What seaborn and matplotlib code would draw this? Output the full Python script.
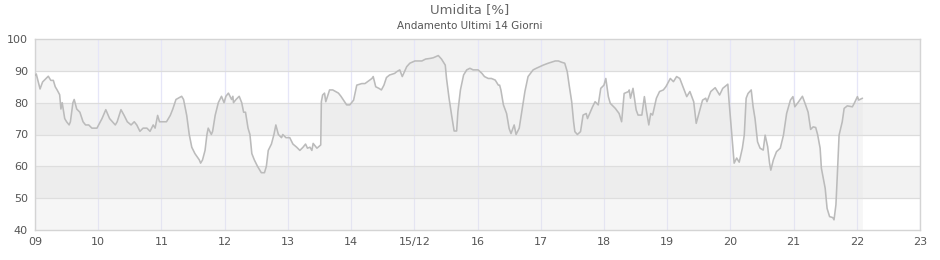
import matplotlib
matplotlib.use("Agg")
import matplotlib.pyplot as plt
import seaborn as sns
import pandas as pd

# time in fractional days (day of month), humidity in %
days = [9.00, 9.02, 9.08, 9.12, 9.17, 9.21, 9.25, 9.29, 9.32, 9.35, 9.39, 9.41, 9.43, 9.47, 9.50, 9.54,
        9.56, 9.60, 9.62, 9.66, 9.71, 9.76, 9.80, 9.85, 9.90, 9.98,
        10.06, 10.12, 10.18, 10.27, 10.30, 10.36, 10.41, 10.46, 10.52, 10.57, 10.61, 10.66, 10.71,
        10.77, 10.82, 10.87, 10.90, 10.94, 10.97,
        11.08, 11.14, 11.18, 11.23, 11.32, 11.35, 11.40, 11.44, 11.48, 11.53, 11.60, 11.62, 11.65,
        11.69, 11.72, 11.74, 11.79, 11.81, 11.85, 11.90, 11.95, 11.99,
        12.02, 12.06, 12.11, 12.13, 12.14, 12.18, 12.23, 12.27, 12.30, 12.33, 12.37, 12.40, 12.43,
        12.47, 12.52, 12.58, 12.63, 12.66, 12.69, 12.74, 12.78, 12.81, 12.85, 12.90, 12.92, 12.97,
        13.03, 13.08, 13.14, 13.19, 13.24, 13.28, 13.31, 13.35, 13.38, 13.40, 13.46, 13.52, 13.53,
        13.55, 13.58, 13.60, 13.66, 13.71, 13.80, 13.84, 13.93, 13.98,
        14.04, 14.09, 14.17, 14.22, 14.33, 14.35, 14.39, 14.44, 14.48, 14.52, 14.56, 14.61, 14.69,
        14.72, 14.77, 14.81, 14.88, 14.93,
        15.01, 15.12, 15.18, 15.25, 15.30, 15.38, 15.43, 15.49, 15.51, 15.55, 15.59, 15.63, 15.67,
        15.69, 15.73, 15.78, 15.83, 15.88, 15.93,
        16.01, 16.07, 16.11, 16.17, 16.22, 16.28, 16.33, 16.35, 16.37, 16.41, 16.46, 16.50, 16.53,
        16.58, 16.61, 16.66, 16.70, 16.75, 16.80, 16.88, 16.93,
        17.04, 17.12, 17.23, 17.28, 17.33, 17.38, 17.42, 17.45, 17.49, 17.52, 17.54, 17.58, 17.63,
        17.67, 17.72, 17.74, 17.82, 17.86, 17.91, 17.95,
        18.00, 18.03, 18.07, 18.10, 18.18, 18.24, 18.28, 18.32, 18.39, 18.40, 18.42, 18.46, 18.51,
        18.54, 18.60, 18.64, 18.67, 18.71, 18.74, 18.77, 18.83, 18.88, 18.94, 18.98,
        19.05, 19.10, 19.15, 19.20, 19.25, 19.31, 19.36, 19.42, 19.46, 19.51, 19.56, 19.61, 19.63,
        19.69, 19.76, 19.83, 19.88, 19.96, 19.98,
        20.01, 20.04, 20.06, 20.10, 20.14, 20.19, 20.22, 20.25, 20.28, 20.33, 20.36, 20.39, 20.43,
        20.47, 20.52, 20.55, 20.59, 20.62, 20.64, 20.68, 20.73, 20.79, 20.84, 20.89, 20.95, 20.99,
        21.02, 21.08, 21.14, 21.19, 21.23, 21.27, 21.31, 21.35, 21.38, 21.42, 21.44, 21.50, 21.53,
        21.57, 21.62, 21.64, 21.67, 21.69, 21.72, 21.77, 21.80, 21.85, 21.93, 21.96,
        22.01, 22.03, 22.09]

humidity = [88.5, 89, 84.3, 86.5, 87.5, 88.3, 87, 87, 85, 84, 82.5, 78, 80, 75, 74, 73,
            74, 80, 81, 78, 77, 74, 73, 73, 72, 72,
            75, 77.8, 75, 73, 74, 77.8, 76, 74, 73, 74, 73, 71, 72,
            72, 71, 73, 72, 76, 74,
            74, 76, 78, 81, 82, 81, 76, 70, 66, 64, 62, 61, 62,
            65, 70, 72, 70, 71, 76, 80, 82, 80,
            82, 83, 81, 82, 80, 81, 82, 80, 77, 77, 72, 70, 64,
            62, 60, 58, 58, 60, 65, 67, 70, 73, 70, 69, 70, 69,
            69, 67, 66, 65, 66, 67, 65.7, 66, 65, 67.2, 65.7, 66.7, 80.3,
            82.4, 83, 80.3, 84, 84, 83, 82, 79.3, 79.3,
            80.8, 85.5, 86, 86, 87.6, 88.2, 85, 84.5, 84, 85.5, 87.9, 88.7, 89.2,
            89.7, 90.3, 88.2, 91.3, 92.4,
            93.1, 93.1, 93.7, 93.9, 94.1, 94.8, 93.7, 91.8, 87.6, 81.4, 76.1, 71.1, 71.1,
            77.2, 84, 88.7, 90.3, 90.8, 90.3,
            90.3, 89.2, 88.2, 87.6, 87.6, 87.1, 85.5, 85.5, 84, 79.3, 76.6, 71.9, 70.3,
            73, 70, 72, 77.2, 83.5, 88.2, 90.3, 90.8,
            91.8, 92.4, 93.1, 93.1, 92.7, 92.4, 89.7, 85.5, 80.3, 74, 70.9, 70, 70.9,
            76.1, 76.6, 75, 78.7, 80.3, 79.3, 84.5,
            85.5, 87.6, 81.9, 79.8, 78.2, 76.6, 74, 82.9, 83.5, 84, 81.4, 84.5, 77.7,
            76.1, 76.1, 81.9, 77.7, 73, 76.6, 76.1, 81.4, 83.5, 84, 85,
            87.6, 86.6, 88.2, 87.6, 85, 81.9, 83.5, 80.3, 73.5, 77.2, 80.8, 81.4, 80.3,
            83.5, 84.7, 82.4, 84.5, 85.8, 80.3,
            73, 65.7, 61, 62.6, 61.3, 65.7, 69.8, 81.4, 82.9, 84, 78.7, 75, 67.7,
            65.7, 65.1, 69.8, 66.2, 61, 58.8, 62, 64.6, 65.7, 69.8, 76.6, 80.8, 81.9,
            78.7, 80.3, 82, 79.3, 77, 71.6, 72.4, 72.2, 70, 65.7, 59.4, 53.1, 46.8,
            44.2, 43.9, 43.2, 47.9, 56.3, 69.8, 74, 78.2, 79, 78.7, 79.8,
            81.9, 80.8, 81.4]

tick_days = list(range(9, 24))
tick_labels = ["09", "10", "11", "12", "13", "14", "15/12", "16", "17", "18", "19", "20", "21", "22", "23"]
y_ticks = [40, 50, 60, 70, 80, 90, 100]

df = pd.DataFrame({"day": days, "umidita": humidity})

sns.set_style("white")
plt.rcParams['font.family'] = ['DejaVu Sans']

fig = plt.figure(figsize=(9.4, 2.6), dpi=100)
ax = fig.add_axes([35 / 940, 30 / 260, 885 / 940, 191 / 260])

# alternating bands
for lo, hi in [(50, 60), (70, 80), (90, 100)]:
    ax.axhspan(lo, hi, color="#f2f2f2", zorder=0, lw=0)

# grid
for d in tick_days:
    ax.axvline(d, color="#e6e6f8", lw=0.9, zorder=1)
for yv in y_ticks[1:-1]:
    ax.axhline(yv, color="#dcdcdc", lw=0.9, zorder=1)

ax.fill_between(df["day"], df["umidita"], 40, color="#e5e5e5", alpha=0.31, lw=0, zorder=2)
sns.lineplot(data=df, x="day", y="umidita", ax=ax, color="#bbbbbb", lw=1.15, zorder=3)

ax.set_xlim(9, 23)
ax.set_ylim(40, 100)
ax.set_xticks(tick_days)
ax.set_xticklabels(tick_labels)
ax.set_yticks(y_ticks)
ax.set_xlabel("")
ax.set_ylabel("")
ax.tick_params(axis="both", length=0, labelsize=8, labelcolor="#555555")
ax.tick_params(axis="x", pad=5)
ax.tick_params(axis="y", pad=5)
for s in ax.spines.values():
    s.set_color("#d4d4d4")
    s.set_linewidth(1.0)

fig.text(0.5, 1 - 10 / 260, "Umidita [%]", ha="center", va="center", fontsize=9.5, color="#666666")
fig.text(0.5, 1 - 26 / 260, "Andamento Ultimi 14 Giorni", ha="center", va="center", fontsize=7.5, color="#555555")

fig.savefig("out.png", dpi=100)
